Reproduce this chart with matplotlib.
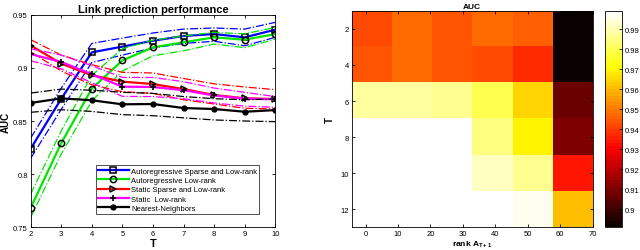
import numpy as np
import matplotlib
matplotlib.use("Agg")
import matplotlib.pyplot as plt

plt.rcParams['font.family'] = ['Liberation Sans', 'DejaVu Sans']

# ---------------- left panel data ----------------
T = [2, 3, 4, 5, 6, 7, 8, 9, 10]
series_names = ["Autoregressive Sparse and Low-rank", "Autoregressive Low-rank",
                "Static Sparse and Low-rank", "Static  Low-rank", "Nearest-Neighbors"]
ar_sparse_mean = [0.824, 0.871, 0.9146, 0.920, 0.9255, 0.930, 0.9318, 0.9287, 0.9359]
ar_sparse_up = [0.834, 0.881, 0.923, 0.928, 0.9328, 0.9365, 0.9375, 0.9365, 0.9428]
ar_sparse_lo = [0.815, 0.861, 0.905, 0.912, 0.9187, 0.923, 0.925, 0.9208, 0.9287]

ar_lr_mean = [0.7684, 0.8293, 0.8805, 0.907, 0.9193, 0.924, 0.9287, 0.9265, 0.9318]
ar_lr_up = [0.7813, 0.8409, 0.893, 0.918, 0.926, 0.930, 0.9334, 0.932, 0.938]
ar_lr_lo = [0.7594, 0.819, 0.869, 0.897, 0.9114, 0.916, 0.9224, 0.919, 0.927]

st_sparse_mean = [0.921, 0.904, 0.893, 0.887, 0.8848, 0.880, 0.8745, 0.8713, 0.8707]
st_sparse_up = [0.9265, 0.912, 0.903, 0.8958, 0.8952, 0.890, 0.885, 0.882, 0.8795]
st_sparse_lo = [0.915, 0.897, 0.884, 0.8776, 0.876, 0.870, 0.866, 0.862, 0.8613]

st_lr_mean = [0.913, 0.9055, 0.894, 0.8823, 0.882, 0.879, 0.874, 0.871, 0.8705]
st_lr_up = [0.918, 0.912, 0.902, 0.891, 0.891, 0.887, 0.881, 0.877, 0.873]
st_lr_lo = [0.9067, 0.899, 0.886, 0.8732, 0.873, 0.871, 0.867, 0.864, 0.8629]

nn_mean = [0.867, 0.8713, 0.8695, 0.8657, 0.866, 0.8622, 0.8613, 0.8587, 0.8603]
nn_up = [0.8763, 0.880, 0.879, 0.877, 0.876, 0.873, 0.871, 0.870, 0.8707]
nn_lo = [0.8582, 0.8606, 0.859, 0.856, 0.855, 0.853, 0.851, 0.850, 0.8494]

colors = ["#0000ff", "#00e600", "#ff0000", "#ff00ff", "#000000"]
markers = ["s", "o", ">", "+", "o"]

# ---------------- right panel data ----------------
ranks = [0, 10, 20, 30, 40, 50]   # column labels (6 columns)
T_rows = [2, 4, 6, 8, 10, 12]
auc = np.array([
    [0.9423, 0.9475, 0.9441, 0.9475, 0.9462, 0.892],
    [0.9446, 0.9467, 0.9449, 0.9418, 0.9369, 0.891],
    [0.9888, 0.9888, 0.987, 0.9802, 0.9648, 0.9064],
    [0.999, 0.999, 0.999, 0.9853, 0.969, 0.9099],
    [0.999, 0.999, 0.999, 0.9922, 0.987, 0.9343],
    [0.999, 0.999, 0.999, 0.999, 0.9957, 0.9614],
])

fig = plt.figure(figsize=(6.4, 2.51), dpi=100)

# ---------- left ----------
ax = fig.add_axes([0.048, 0.0904, 0.382, 0.847])
groups = [
    (ar_sparse_mean, ar_sparse_up, ar_sparse_lo),
    (ar_lr_mean, ar_lr_up, ar_lr_lo),
    (st_sparse_mean, st_sparse_up, st_sparse_lo),
    (st_lr_mean, st_lr_up, st_lr_lo),
    (nn_mean, nn_up, nn_lo),
]
handles = []
for (m, up, lo), c, mk, name in zip(groups, colors, markers, series_names):
    ax.plot(T, up, color=c, lw=0.9, ls='-.')
    ax.plot(T, lo, color=c, lw=0.9, ls='-.')
    if mk == "+":
        kw = dict(marker='+', markersize=5, markeredgecolor='k', markeredgewidth=1.2)
    elif name == "Nearest-Neighbors":
        kw = dict(marker='o', markersize=3.5, markerfacecolor='k', markeredgecolor='k')
    else:
        kw = dict(marker=mk, markersize=4.5, markerfacecolor='none', markeredgecolor='k',
                  markeredgewidth=1.1)
    h, = ax.plot(T, m, color=c, lw=1.6, **kw)
    handles.append(h)

ax.set_xlim(2, 10)
ax.set_ylim(0.75, 0.95)
ax.set_xticks(T)
ax.set_yticks([0.75, 0.8, 0.85, 0.9, 0.95])
ax.set_yticklabels(["0.75", "0.8", "0.85", "0.9", "0.95"])
ax.tick_params(direction='in', top=True, right=True, labelsize=5.5, length=2.5, width=0.6, pad=2)
for s in ax.spines.values():
    s.set_linewidth(0.6)
ax.set_title("Link prediction performance", fontsize=8, fontweight='bold', pad=2)
ax.set_xlabel("T", fontsize=8, fontweight='bold', labelpad=1)
ax.set_ylabel("AUC", fontsize=7, fontweight='bold', labelpad=2)
leg = ax.legend(handles, series_names, loc='lower right', bbox_to_anchor=(0.935, 0.062),
                fontsize=5.5, frameon=True, fancybox=False, edgecolor='k',
                handlelength=4.0, borderpad=0.3, labelspacing=0.25, handletextpad=0.3,
                borderaxespad=0.0)
leg.get_frame().set_linewidth(0.6)

# ---------- right ----------
ax2 = fig.add_axes([0.5495, 0.0904, 0.3765, 0.8626])
cmap = plt.get_cmap('hot', 64)
im = ax2.imshow(auc, cmap=cmap, vmin=0.891, vmax=0.999, aspect='auto',
                extent=[-4.3, 70, 13, 1], interpolation='nearest')
ax2.set_xlim(-4.3, 70)
ax2.set_ylim(13, 1)
ax2.set_xticks([0, 10, 20, 30, 40, 50, 60, 70])
ax2.set_yticks(T_rows)
ax2.tick_params(direction='in', top=True, right=True, labelsize=5.5, length=2.5, width=0.6, pad=2)
for s in ax2.spines.values():
    s.set_linewidth(0.6)
ax2.set_title("AUC", fontsize=6, fontweight='bold', pad=2)
ax2.set_xlabel(r"rank A$_{\mathregular{T+1}}$", fontsize=6, fontweight='bold', labelpad=1)
ax2.set_ylabel("T", fontsize=7, fontweight='bold', labelpad=4)

cax = fig.add_axes([0.9458, 0.0904, 0.0266, 0.8606])
cb = fig.colorbar(im, cax=cax, ticks=[0.9, 0.91, 0.92, 0.93, 0.94, 0.95, 0.96, 0.97, 0.98, 0.99])
cb.ax.set_yticklabels(["0.9", "0.91", "0.92", "0.93", "0.94", "0.95", "0.96", "0.97", "0.98", "0.99"])
cb.ax.tick_params(direction='in', labelsize=5.5, length=2, width=0.6, pad=2)
cb.outline.set_linewidth(0.6)

fig.savefig("out.png", dpi=100)
